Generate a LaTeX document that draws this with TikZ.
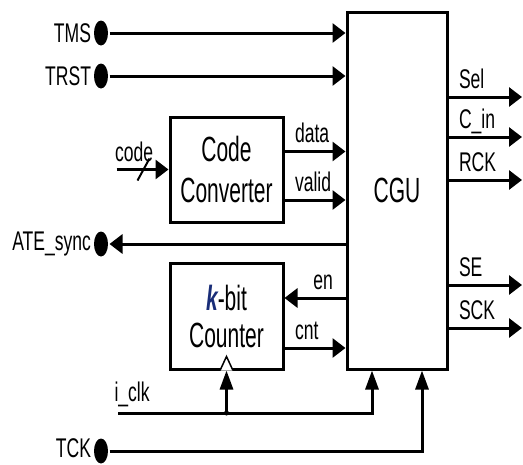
\documentclass[tikz,border=0pt]{standalone}
\usepackage{fontspec}
\newfontfamily\lblfont[FakeStretch=0.65]{Liberation Sans}
\newfontfamily\blkfont[FakeStretch=0.6]{Liberation Sans}
\usepackage{xcolor}
\usetikzlibrary{arrows.meta,positioning,shapes.geometric}
\definecolor{kblue}{RGB}{25,45,120}

\begin{document}
\begin{tikzpicture}[
x=1pt, y=-1pt,
line width=3pt,
blk/.style={
    rectangle,
    draw,
    inner sep=0pt,
    align=center,
    font=\blkfont\fontsize{35}{41}\selectfont
},
port/.style={
    ellipse,
    fill,
    inner sep=0pt,
    minimum width=14pt,
    minimum height=25pt,
    label distance=5pt
},
lbl/.style={inner sep=0pt, font=\lblfont\fontsize{27}{30}\selectfont},
sig/.style={lbl, pos=0, anchor=base west, xshift=9pt, yshift=9pt},
harr/.style={-{Triangle[length=13pt,width=19pt]}},
varr/.style={-{Triangle[length=19pt,width=13pt]}}
]
\useasboundingbox (0,0) rectangle (523,464);

% blocks
\node[blk, minimum width=100pt, minimum height=357pt] (cgu) at (397,190.5) {CGU};
\node[blk, minimum width=113pt, minimum height=105pt] (conv) at (226.5,169.5) {Code\\Converter};
\node[blk, minimum width=113pt, minimum height=106pt, font=\blkfont\fontsize{35}{37}\selectfont] (cnt) at (226.5,316) {{\bfseries\itshape\color{kblue}k}-bit\\Counter};

% ports
\node[port, label={[lbl]left:TMS}] (tms) at (101,33) {};
\node[port, label={[lbl]left:TRST}] (trst) at (101,76) {};
\node[port, label={[lbl]left:ATE\_sync}] (ate) at (101,244) {};
\node[port, label={[lbl, yshift=3pt]left:TCK}] (tck) at (101,451) {};

\coordinate[left=52pt of conv] (codein);
\coordinate (iclk) at (118,413);
\coordinate (data) at ([yshift=18pt]conv.east);
\coordinate (valid) at ([yshift=-30.5pt]conv.east);
\coordinate (en) at ([yshift=18pt]cnt.east);
\coordinate (cntout) at ([yshift=-32pt]cnt.east);
\coordinate (jn) at (cnt.south |- iclk);
\coordinate (sel) at (522,97);
\coordinate (cin) at (522,137);
\coordinate (rck) at (522,180);
\coordinate (se) at (522,285);
\coordinate (sck) at (522,328);

% inputs
\draw[harr] (tms) -- (tms -| cgu.west);
\draw[harr] (trst) -- (trst -| cgu.west);
\draw[harr] (cgu.west |- ate) -- (ate);
\draw[harr] (codein) -- (conv.west) node[lbl, pos=0, anchor=base west, xshift=-3pt, yshift=8pt] {code};
\draw[line width=2pt] ([xshift=-25pt]conv.west) ++(-6,11) -- ++(12,-22);

\draw[harr] (data) -- (data -| cgu.west) node[sig] {data};
\draw[harr] (valid) -- (valid -| cgu.west) node[sig] {valid};
\draw[harr] (cgu.west |- en) -- (en) node[lbl, pos=0, anchor=base east, xshift=-11pt, yshift=9pt] {en};
\draw[harr] (cntout) -- (cntout -| cgu.west) node[sig] {cnt};

% outputs
\draw[harr] (cgu.east |- sel) -- (sel) node[sig] {Sel};
\draw[harr] (cgu.east |- cin) -- (cin) node[sig] {C\_in};
\draw[harr] (cgu.east |- rck) -- (rck) node[sig] {RCK};
\draw[harr] (cgu.east |- se) -- (se) node[sig] {SE};
\draw[harr] (cgu.east |- sck) -- (sck) node[sig] {SCK};

% clocks
\draw[varr] (iclk) -| ([xshift=-25pt]cgu.south) node[lbl, pos=0, anchor=base west, xshift=-5pt, yshift=12pt] {i\_clk};
\draw[varr] (jn) -- (cnt.south);
\fill (jn) circle (2.5pt);
\draw[line width=1.5pt, fill=white] ([xshift=-6.5pt]cnt.south) -- ([yshift=14pt]cnt.south) -- ([xshift=6.5pt]cnt.south);
\draw[varr] (tck) -| ([xshift=25pt]cgu.south);
\end{tikzpicture}
\end{document}
